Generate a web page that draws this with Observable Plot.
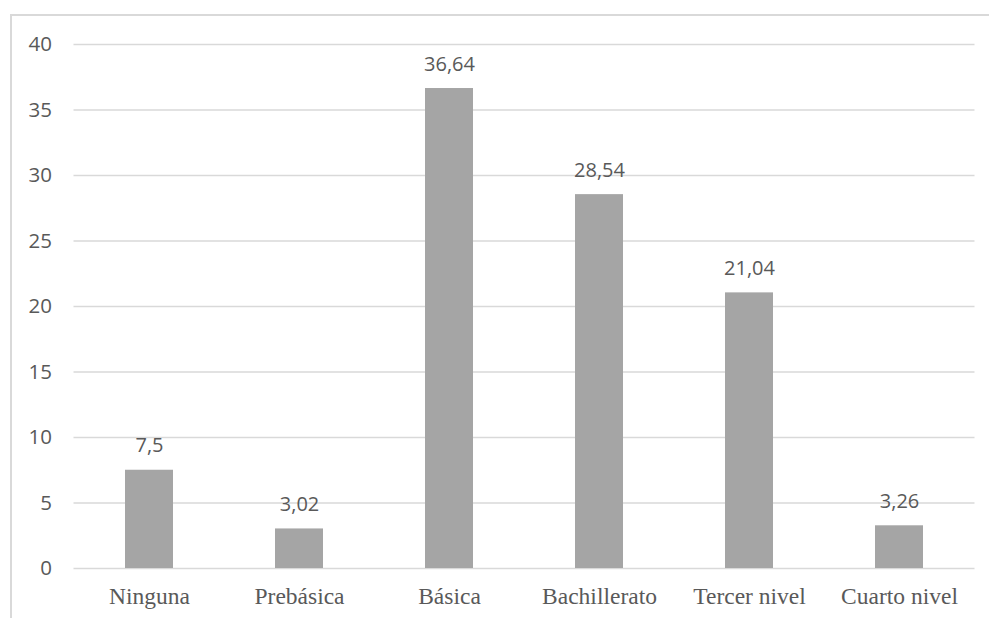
<!DOCTYPE html>
<html>
<head>
<meta charset="utf-8">
<script src="https://cdn.jsdelivr.net/npm/d3@7"></script>
<script src="https://cdn.jsdelivr.net/npm/@observablehq/plot@0.6"></script>
<style>
  html, body { margin: 0; padding: 0; background: #fff; }
  #wrap { position: relative; width: 989px; height: 618px; overflow: hidden; }
  #frame { position: absolute; left: 10px; top: 14px; width: 1000px; height: 700px;
           border-left: 2px solid #d9d9d9; border-top: 2px solid #d9d9d9; box-sizing: border-box; }
  #chart { position: absolute; left: 0; top: 0; }
</style>
</head>
<body>
<div id="wrap"><div id="frame"></div><div id="chart"></div></div>
<script>
const categories = ["Ninguna", "Prebásica", "Básica", "Bachillerato", "Tercer nivel", "Cuarto nivel"];
const values = [7.5, 3.02, 36.64, 28.54, 21.04, 3.26];
const valueLabels = ["7,5", "3,02", "36,64", "28,54", "21,04", "3,26"];
const yTicks = [0, 5, 10, 15, 20, 25, 30, 35, 40];

const data = categories.map((c, i) => ({cat: c, value: values[i], label: valueLabels[i]}));

const chart = Plot.plot({
  width: 989,
  height: 618,
  marginLeft: 73.5,
  marginRight: 14.5,
  marginTop: 44,
  marginBottom: 50,
  style: {background: "transparent", color: "#595959", overflow: "visible"},
  x: {domain: categories, paddingInner: 0.68, paddingOuter: 0.34, label: null},
  y: {domain: [0, 40], label: null},
  marks: [
    Plot.ruleY(yTicks, {stroke: "#d9d9d9", strokeWidth: 1.5}),
    Plot.barY(data, {x: "cat", y: "value", fill: "#a5a5a5"}),
    Plot.text(data, {x: "cat", y: "value", text: "label", lineAnchor: "bottom", dy: -18,
      fontSize: 20, fontFamily: "Open Sans", fill: "#595959"}),
    Plot.axisY(yTicks, {tickSize: 0, tickPadding: 22, fontSize: 20.5, fontFamily: "Open Sans",
      fill: "#595959", label: null, tickFormat: d => String(d)}),
    Plot.axisX({tickSize: 0, tickPadding: 19, fontSize: 23.5, fontFamily: "Liberation Serif",
      fill: "#595959", label: null})
  ]
});
document.getElementById("chart").appendChild(chart);
</script>
</body>
</html>
